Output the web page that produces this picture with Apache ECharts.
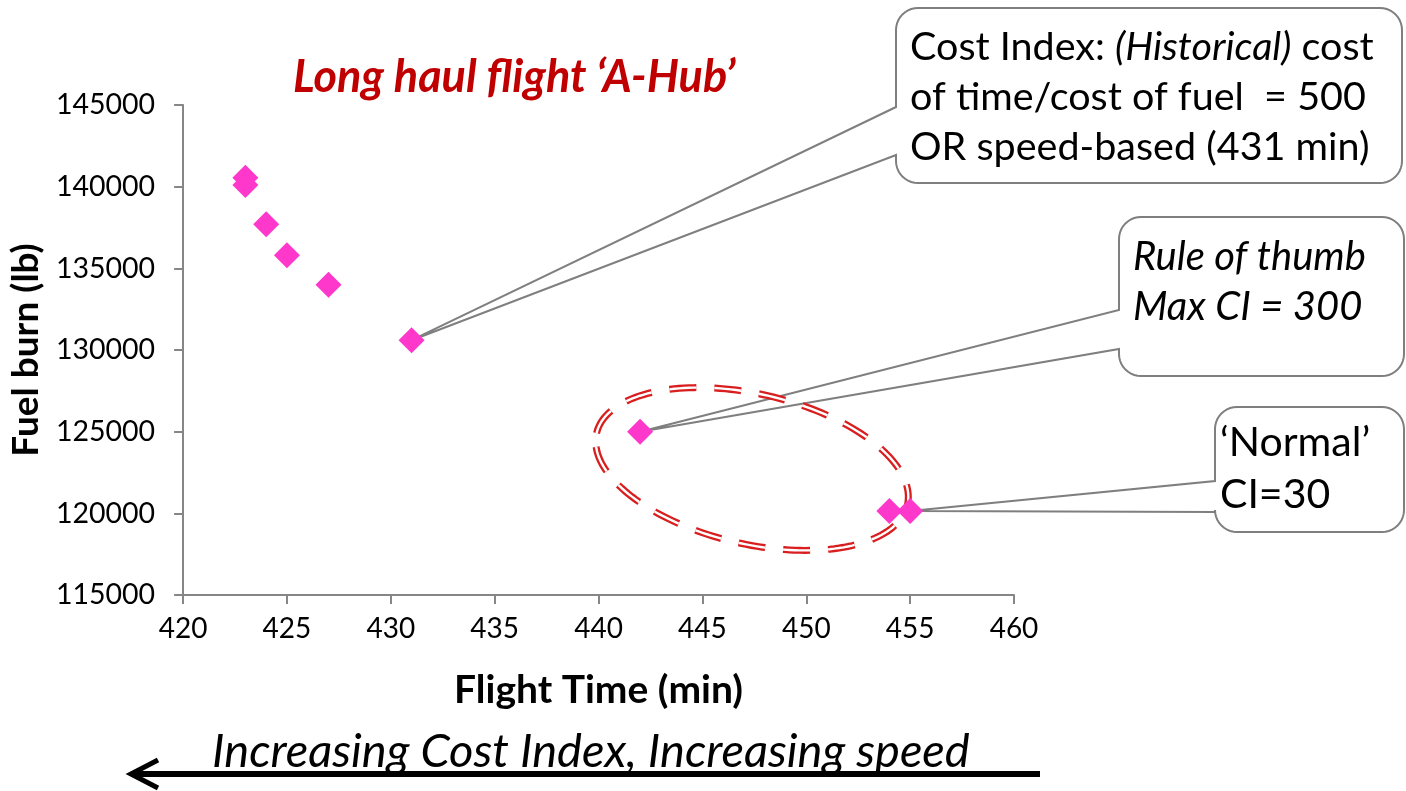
<!DOCTYPE html>
<html>
<head>
<meta charset="utf-8">
<script src="https://cdn.jsdelivr.net/npm/echarts@6/dist/echarts.min.js"></script>
<style>
  html, body { margin: 0; padding: 0; background: #fff; }
  #chart { width: 1406px; height: 791px; }
</style>
</head>
<body>
<div id="chart"></div>
<script>
// Flight time vs. fuel burn for one long-haul route, one point per cost index setting
const flightTime = [423, 423, 424, 425, 427, 431, 442, 454, 455];
const fuelBurn = [140550, 140100, 137700, 135800, 134000, 130600, 125000, 120150, 120150];

const xTicks = { min: 420, max: 460, step: 5 };
const yTicks = { min: 115000, max: 145000, step: 5000 };

const FONT = 'Lato';
const AXIS_GREY = '#868686';
const MARK_PINK = '#FF38CC';

const chart = echarts.init(document.getElementById('chart'), null, { renderer: 'canvas' });

chart.setOption({
  animation: false,
  backgroundColor: '#ffffff',
  title: {
    text: 'Long haul flight \u2018A-Hub\u2019',
    left: 288,
    top: 50,
    textStyle: {
      fontFamily: FONT,
      fontSize: 45,
      fontWeight: 'bold',
      fontStyle: 'italic',
      color: '#C00000'
    }
  },
  grid: { left: 183, right: 392, top: 105, bottom: 196 },
  xAxis: {
    type: 'value',
    min: xTicks.min,
    max: xTicks.max,
    interval: xTicks.step,
    name: 'Flight Time (min)',
    nameLocation: 'middle',
    nameGap: 76,
    nameTextStyle: { fontFamily: FONT, fontSize: 39, fontWeight: 'bold', color: '#000' },
    axisLine: { lineStyle: { color: AXIS_GREY, width: 2 } },
    axisTick: { show: true, length: 9, lineStyle: { color: AXIS_GREY, width: 2 } },
    axisLabel: { fontFamily: FONT, fontSize: 28, color: '#000', margin: 20 },
    splitLine: { show: false }
  },
  yAxis: {
    type: 'value',
    min: yTicks.min,
    max: yTicks.max,
    interval: yTicks.step,
    name: 'Fuel burn (lb)',
    nameLocation: 'middle',
    nameGap: 131,
    nameTextStyle: { fontFamily: FONT, fontSize: 37, fontWeight: 'bold', color: '#000' },
    axisLine: { show: true, lineStyle: { color: AXIS_GREY, width: 2 } },
    axisTick: { show: true, length: 9, lineStyle: { color: AXIS_GREY, width: 2 } },
    axisLabel: {
      fontFamily: FONT, fontSize: 28.5, color: '#000', margin: 28,
      formatter: v => String(v)
    },
    splitLine: { show: false }
  },
  series: [{
    type: 'scatter',
    symbol: 'diamond',
    symbolSize: 26,
    z: 5,
    itemStyle: { color: MARK_PINK, opacity: 1 },
    data: flightTime.map((t, i) => [t, fuelBurn[i]])
  }]
});

// Quarter-circle corner points from angle a0 to a1 around (cx, cy)
function arcPoints(cx, cy, r, a0, a1, n) {
  const pts = [];
  for (let i = 0; i <= n; i++) {
    const a = a0 + (a1 - a0) * i / n;
    pts.push([cx + r * Math.cos(a), cy + r * Math.sin(a)]);
  }
  return pts;
}

// Speech-bubble outline: rounded box whose left edge opens into a wedge pointing at (ax, ay)
function bubblePoints(b, ax, ay) {
  const r = 22, n = 10, P = Math.PI;
  const { l, t, rt, btm, g1, g2 } = b;
  return [].concat(
    [[l, g1]],
    arcPoints(l + r, t + r, r, P, 1.5 * P, n),
    arcPoints(rt - r, t + r, r, 1.5 * P, 2 * P, n),
    arcPoints(rt - r, btm - r, r, 0, 0.5 * P, n),
    arcPoints(l + r, btm - r, r, 0.5 * P, P, n),
    [[l, g2], [ax, ay]]
  );
}

// Rotated ellipse outline as a closed ring of points
function ellipsePoints(cx, cy, rx, ry, rot, n) {
  const pts = [];
  const c = Math.cos(rot), s = Math.sin(rot);
  for (let i = 0; i <= n; i++) {
    const a = Math.PI + 2 * Math.PI * i / n;
    const ex = rx * Math.cos(a), ey = ry * Math.sin(a);
    pts.push([cx + ex * c - ey * s, cy + ex * s + ey * c]);
  }
  return pts;
}

const callouts = [
  { idx: 5, box: { l: 896, t: 8, rt: 1402, btm: 183, g1: 107, g2: 155 } },
  { idx: 6, box: { l: 1119, t: 217, rt: 1404, btm: 376, g1: 310, g2: 349 } },
  { idx: 8, box: { l: 1215, t: 407, rt: 1404, btm: 532, g1: 481, g2: 512 } }
];

const graphics = [];

callouts.forEach(c => {
  const p = chart.convertToPixel({ gridIndex: 0 }, [flightTime[c.idx], fuelBurn[c.idx]]);
  graphics.push({
    type: 'polygon',
    z: 0,
    shape: { points: bubblePoints(c.box, p[0], p[1]) },
    style: { fill: '#ffffff', stroke: '#7F7F7F', lineWidth: 2 }
  });
});

graphics.push({
  type: 'text',
  z: 3,
  left: 910,
  top: 22,
  style: {
    text: 'Cost Index: {i|(Historical)} cost\nof time/cost of fuel  = 500\nOR speed-based (431 min)',
    fontFamily: FONT, fontSize: 39.5, fill: '#000', lineHeight: 50,
    rich: { i: { fontFamily: FONT, fontSize: 39.5, fontStyle: 'italic', fill: '#000', lineHeight: 50 } }
  }
});
graphics.push({
  type: 'text',
  z: 3,
  left: 1133,
  top: 232,
  style: {
    text: 'Rule of thumb\nMax CI = 300',
    fontFamily: FONT, fontSize: 40, fontStyle: 'italic', fill: '#000', lineHeight: 50
  }
});
graphics.push({
  type: 'text',
  z: 3,
  left: 1220,
  top: 417,
  style: {
    text: '\u2018Normal\u2019\nCI=30',
    fontFamily: FONT, fontSize: 41, fill: '#000', lineHeight: 52
  }
});

// Dashed double ring around the moderate cost-index settings
const ringPts = ellipsePoints(752, 469, 159.5, 75, 13 * Math.PI / 180, 180);
const ringDash = [27, 18];
graphics.push({
  type: 'polyline',
  z: 1,
  shape: { points: ringPts },
  style: { stroke: '#D81E1E', lineWidth: 7, lineDash: ringDash, fill: null }
});
graphics.push({
  type: 'polyline',
  z: 1.1,
  shape: { points: ringPts },
  style: { stroke: '#ffffff', lineWidth: 2.4, lineDash: ringDash, fill: null }
});

// Direction note and arrow beneath the axis title
graphics.push({
  type: 'text',
  z: 3,
  style: {
    x: 212,
    y: 752,
    text: 'Increasing Cost Index, Increasing speed',
    fontFamily: FONT, fontSize: 47, fontStyle: 'italic', fill: '#000',
    verticalAlign: 'middle'
  }
});
graphics.push({
  type: 'line',
  z: 3,
  shape: { x1: 1040, y1: 774, x2: 133, y2: 774 },
  style: { stroke: '#000', lineWidth: 6 }
});
graphics.push({
  type: 'polyline',
  z: 3,
  shape: { points: [[158, 760], [131, 774], [158, 788]] },
  style: { stroke: '#000', lineWidth: 5, fill: null, lineJoin: 'miter' }
});

chart.setOption({ graphic: { elements: graphics } });
</script>
</body>
</html>
